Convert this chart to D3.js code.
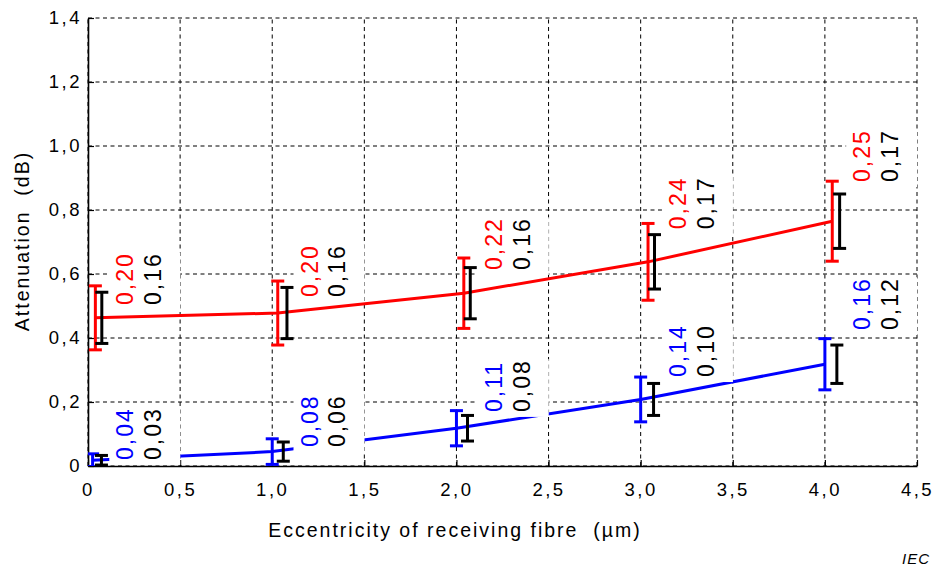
<!DOCTYPE html>
<html>
<head>
<meta charset="utf-8">
<script src="https://cdn.jsdelivr.net/npm/d3@7"></script>
<style>
  body { margin: 0; background: #fff; }
  text { font-family: Arial, "Liberation Sans", sans-serif; white-space: pre; }
</style>
</head>
<body>
<svg id="chart"></svg>
<script>
// axis ticks
const xTicks = [0, 0.5, 1, 1.5, 2, 2.5, 3, 3.5, 4, 4.5];
const yTicks = [0, 0.2, 0.4, 0.6, 0.8, 1.0, 1.2, 1.4];

// nominal eccentricity of each measurement group
const nominalX = [0, 1, 2, 3, 4];

// red series (upper curve) and its black companion bars
const redX = [0.04, 1.03, 2.04, 3.04, 4.04];
const redBlackX = [0.075, 1.08, 2.075, 3.075, 4.08];
const redMean = [0.463, 0.478, 0.54, 0.638, 0.765];
const redRange = [0.20, 0.20, 0.22, 0.24, 0.25];
const redBlackRange = [0.16, 0.16, 0.16, 0.17, 0.17];
const redLabelY = [0.503, 0.528, 0.6125, 0.74, 0.8875];

// blue series (lower curve) and its black companion bars
const blueX = [0.025, 1.0, 2.0, 3.0, 4.0];
const blueBlackX = [0.073, 1.06, 2.06, 3.07, 4.065];
const blueMean = [0.018, 0.045, 0.118, 0.208, 0.318];
const blueRange = [0.04, 0.08, 0.11, 0.14, 0.16];
const blueBlackRange = [0.03, 0.06, 0.08, 0.10, 0.12];
const blueLabelY = [0.019, 0.059, 0.169, 0.278, 0.425];

const width = 933, height = 566;
const margin = { top: 18, right: 16, bottom: 100, left: 88 };

const svg = d3.select('#chart')
  .attr('width', width)
  .attr('height', height);

const x = d3.scaleLinear().domain([0, 4.5]).range([margin.left, width - margin.right]);
const y = d3.scaleLinear().domain([0, 1.4]).range([height - margin.bottom, margin.top]);

const comma = f => v => v === 0 ? '0' : d3.format(f)(v).replace('.', ',');

// dashed grid
const grid = svg.append('g').attr('stroke', '#000').attr('stroke-width', 1).attr('stroke-dasharray', '4,3.5');
grid.selectAll('.vg').data(xTicks).join('line')
  .attr('x1', d => x(d)).attr('x2', d => x(d))
  .attr('y1', y(0)).attr('y2', y(1.4));
grid.selectAll('.hg').data(yTicks).join('line')
  .attr('x1', x(0)).attr('x2', x(4.5))
  .attr('y1', d => y(d)).attr('y2', d => y(d));

// axes
const xAxis = d3.axisBottom(x).tickValues(xTicks).tickSize(-6).tickSizeOuter(0)
  .tickPadding(17).tickFormat(comma('.1f'));
const yAxis = d3.axisLeft(y).tickValues(yTicks).tickSize(-6).tickSizeOuter(0)
  .tickPadding(6).tickFormat(comma('.1f'));

const xg = svg.append('g').attr('transform', `translate(0,${y(0)})`).call(xAxis);
const yg = svg.append('g').attr('transform', `translate(${x(0)},0)`).call(yAxis);
[xg, yg].forEach(g => {
  g.select('.domain').attr('stroke-width', 1.6);
  g.selectAll('.tick line').attr('stroke-width', 1.2);
  g.selectAll('.tick text')
    .attr('fill', '#000')
    .style('font-size', '18.5px')
    .style('letter-spacing', '2.5px');
});

svg.append('text')
  .attr('x', 455).attr('y', 537)
  .attr('text-anchor', 'middle')
  .style('font-size', '19.5px')
  .style('letter-spacing', '2px')
  .text('Eccentricity of receiving fibre  (\u00b5m)');

svg.append('text')
  .attr('transform', 'translate(29,241) rotate(-90)')
  .attr('text-anchor', 'middle')
  .style('font-size', '19.5px')
  .style('letter-spacing', '2px')
  .text('Attenuation  (dB)');

svg.append('text')
  .attr('x', 930).attr('y', 564)
  .attr('text-anchor', 'end')
  .style('font-size', '15px')
  .style('font-style', 'italic')
  .style('letter-spacing', '1px')
  .text('IEC');

// plot area clip
svg.append('clipPath').attr('id', 'plot-clip')
  .append('rect')
  .attr('x', x(0)).attr('y', y(1.4))
  .attr('width', x(4.5) - x(0)).attr('height', y(0) - y(1.4));

const plot = svg.append('g').attr('clip-path', 'url(#plot-clip)');

const series = [
  { color: '#ff0000', xs: redX, bxs: redBlackX, mean: redMean, range: redRange, bRange: redBlackRange, labelY: redLabelY },
  { color: '#0000ff', xs: blueX, bxs: blueBlackX, mean: blueMean, range: blueRange, bRange: blueBlackRange, labelY: blueLabelY }
];

const line = d3.line().x(d => x(d[0])).y(d => y(d[1]));

series.forEach(s => {
  plot.append('path')
    .datum(d3.zip(s.xs, s.mean))
    .attr('fill', 'none')
    .attr('stroke', s.color)
    .attr('stroke-width', 3)
    .attr('d', line);
});

// value labels with white boxes behind them
const fmt = comma('.2f');
const labelSize = 23;
series.forEach(s => {
  nominalX.forEach((n, i) => {
    const g = plot.append('g')
      .attr('transform', `translate(${x(n) + 37},${y(s.labelY[i])}) rotate(-90)`);
    g.append('text')
      .attr('x', 0).attr('y', labelSize * 0.36)
      .attr('fill', s.color)
      .style('font-size', labelSize + 'px')
      .style('letter-spacing', '2px')
      .text(fmt(s.range[i]));
    g.append('text')
      .attr('x', 0).attr('y', 28 + labelSize * 0.36)
      .attr('fill', '#000')
      .style('font-size', labelSize + 'px')
      .style('letter-spacing', '2px')
      .text(fmt(s.bRange[i]));
    const bb = g.node().getBBox();
    g.insert('rect', 'text')
      .attr('x', bb.x - 5).attr('width', bb.width + 5)
      .attr('y', bb.y - 3).attr('height', bb.height + 17)
      .attr('fill', '#fff');
  });
});

// error bars: coloured first, black on top
function errorBar(g, cx, mid, r, color) {
  const top = y(mid + r / 2), bot = y(mid - r / 2), w = 6.5;
  g.append('line').attr('x1', cx).attr('x2', cx).attr('y1', top).attr('y2', bot);
  g.append('line').attr('x1', cx - w).attr('x2', cx + w).attr('y1', top).attr('y2', top);
  g.append('line').attr('x1', cx - w).attr('x2', cx + w).attr('y1', bot).attr('y2', bot);
  g.attr('stroke', color).attr('stroke-width', 3);
}

series.forEach(s => {
  s.xs.forEach((v, i) => errorBar(plot.append('g'), x(v), s.mean[i], s.range[i], s.color));
  s.bxs.forEach((v, i) => errorBar(plot.append('g'), x(v), s.mean[i], s.bRange[i], '#000'));
});
</script>
</body>
</html>
